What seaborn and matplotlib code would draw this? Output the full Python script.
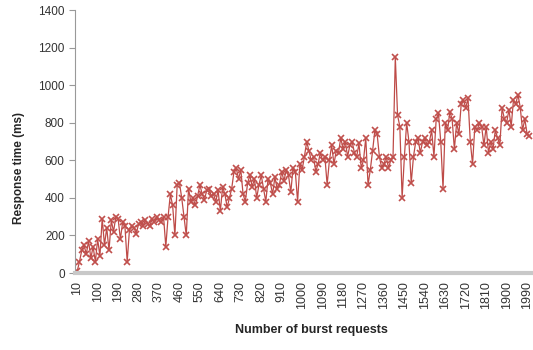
import matplotlib
matplotlib.use("Agg")
import matplotlib.pyplot as plt
import seaborn as sns
import pandas as pd

# burst sizes 10..2000 in steps of 10
requests = list(range(10, 2001, 10))

# response times (ms)
response_ms = [
    10, 60, 120, 150, 100, 170, 80, 140, 60, 180,
    90, 290, 150, 240, 120, 280, 220, 300, 290, 180,
    270, 250, 60, 230, 250, 240, 210, 260, 270, 250,
    280, 260, 250, 290, 270, 300, 280, 270, 300, 140,
    300, 420, 360, 200, 470, 480, 400, 300, 200, 450,
    380, 400, 360, 410, 470, 420, 390, 440, 450, 410,
    420, 380, 440, 330, 460, 420, 350, 400, 450, 540,
    560, 500, 550, 420, 380, 480, 520, 460, 500, 400,
    470, 520, 450, 380, 500, 480, 420, 510, 450, 470,
    540, 490, 550, 520, 430, 560, 540, 380, 580, 550,
    620, 700, 650, 600, 620, 540, 580, 640, 600, 620,
    470, 600, 680, 580, 650, 640, 720, 660, 700, 620,
    680, 700, 640, 620, 690, 560, 600, 720, 470, 550,
    650, 760, 740, 620, 560, 580, 620, 560, 600, 620,
    1150, 840, 780, 400, 620, 800, 700, 480, 620, 700,
    720, 640, 700, 720, 680, 700, 760, 620, 820, 850,
    700, 450, 800, 760, 860, 820, 660, 800, 740, 900,
    920, 880, 930, 700, 580, 780, 760, 800, 780, 680,
    780, 640, 700, 660, 760, 720, 680, 880, 820, 800,
    870, 780, 920, 900, 950, 880, 760, 820, 740, 730,
]

tick_labels = list(range(10, 2000, 90))
y_ticks = [0, 200, 400, 600, 800, 1000, 1200, 1400]

df = pd.DataFrame({"requests": requests, "response": response_ms})

sns.set_style("white")
plt.rcParams["font.family"] = ["Liberation Sans", "DejaVu Sans"]

fig = plt.figure(figsize=(5.33, 3.5), dpi=100)
ax = fig.add_axes([0.141, 0.22, 0.859, 0.751])

sns.lineplot(data=df, x="requests", y="response", ax=ax,
             color="#BE4B48", linewidth=0.9, marker="x",
             markersize=4.5, markeredgewidth=1.2, markeredgecolor="#C0504D")

ax.set_xlim(1, 2016)
ax.set_ylim(0, 1400)
ax.set_xticks(tick_labels)
ax.set_xticklabels([str(t) for t in tick_labels], rotation=90, fontsize=9, color="#333333")
ax.set_yticks(y_ticks)
ax.set_yticklabels([str(t) for t in y_ticks], fontsize=8.5, color="#333333")
ax.tick_params(axis="x", length=0, pad=6)
ax.tick_params(axis="y", length=4, width=0.8, color="#999999", direction="out", left=True)

ax.set_xlabel("Number of burst requests", fontsize=9, fontweight="bold")
ax.set_ylabel("Response time (ms)", fontsize=8.5, fontweight="bold")
# label placement mimics the spreadsheet original (y title sits a bit low)
ax.xaxis.set_label_coords(0.517, -0.195, transform=ax.transAxes)
ax.yaxis.set_label_coords(-0.11, 0.40, transform=ax.transAxes)

sns.despine(ax=ax)
ax.spines["left"].set_color("#999999")
ax.spines["left"].set_linewidth(0.8)
ax.spines["bottom"].set_color("#C8C8C8")
ax.spines["bottom"].set_linewidth(3)

fig.savefig("out.png", dpi=100)
